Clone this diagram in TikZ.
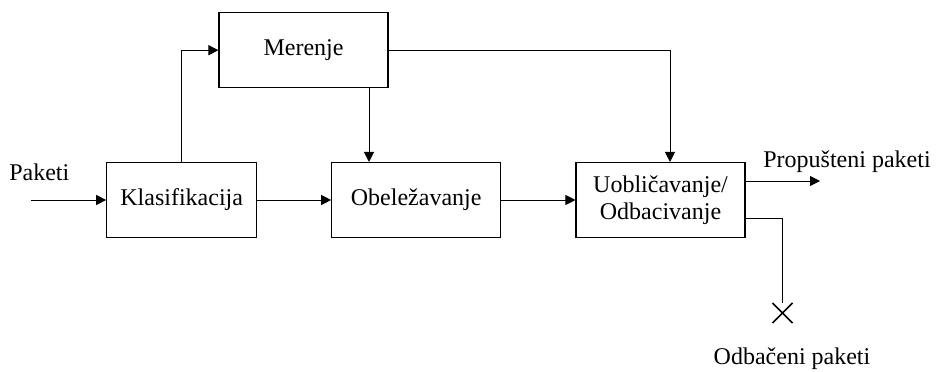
\documentclass[tikz,border=0pt]{standalone}
\usepackage{fontspec}
\setmainfont{Liberation Serif}
\usetikzlibrary{arrows.meta}
\begin{document}
\begin{tikzpicture}[x=0.75pt,y=-0.75pt,
  block/.style={draw,line width=0.8pt,rectangle,inner sep=0pt,align=center,font=\fontsize{18}{20}\selectfont},
  lbl/.style={inner sep=0pt,font=\fontsize{18}{20}\selectfont},
  conn/.style={line width=0.75pt},
  arr/.style={conn,-{Triangle[length=7.5pt,width=7.5pt]}}]
\useasboundingbox (0,0) rectangle (938,371);

% processing blocks
\node[block,minimum width=169*0.75pt,minimum height=75*0.75pt] (mer) at (303.5,50.2) {Merenje};
\node[block,minimum width=150*0.75pt,minimum height=75*0.75pt] (klas) at (181.7,200) {Klasifikacija};
\node[block,minimum width=169*0.75pt,minimum height=75*0.75pt] (obel) at (416.2,200) {Obeležavanje};
\node[block,minimum width=169*0.75pt,minimum height=75*0.75pt] (uobl) at (660.5,200) {Uobličavanje/\\Odbacivanje};

% labels
\node[lbl,anchor=west] (paketi) at (9,172) {Paketi};
\node[lbl] (prop) at (847,162) {Propušteni paketi};
\node[lbl] (odb) at (792,359) {Odbačeni paketi};

% helper points
\coordinate (in) at (30.7,200);
\coordinate (m1) at (369,0);
\coordinate (m2) at (670,0);
\coordinate (o1) at (0,181);
\coordinate (o2) at (0,218);
\coordinate (pend) at (820,181);
\coordinate (drop) at (782.5,313);

% connectors
\draw[arr] (in) -- (klas.west);
\draw[arr] (klas.north) |- (mer.west);
\draw[arr] (klas.east) -- (obel.west);
\draw[arr] (obel.east) -- (uobl.west);
\draw[arr] (mer.south -| m1) -- (obel.north -| m1);
\draw[arr] (mer.east) -| (uobl.north -| m2);
\draw[arr] (uobl.east |- o1) -- (pend);
\draw[conn] (uobl.east |- o2) -| ([yshift=7.5pt]drop);

% discard mark
\draw[line width=1.1pt] ([xshift=-7.5pt,yshift=7.5pt]drop) -- ([xshift=7.5pt,yshift=-7.5pt]drop)
  ([xshift=-7.5pt,yshift=-7.5pt]drop) -- ([xshift=7.5pt,yshift=7.5pt]drop);
\end{tikzpicture}
\end{document}
